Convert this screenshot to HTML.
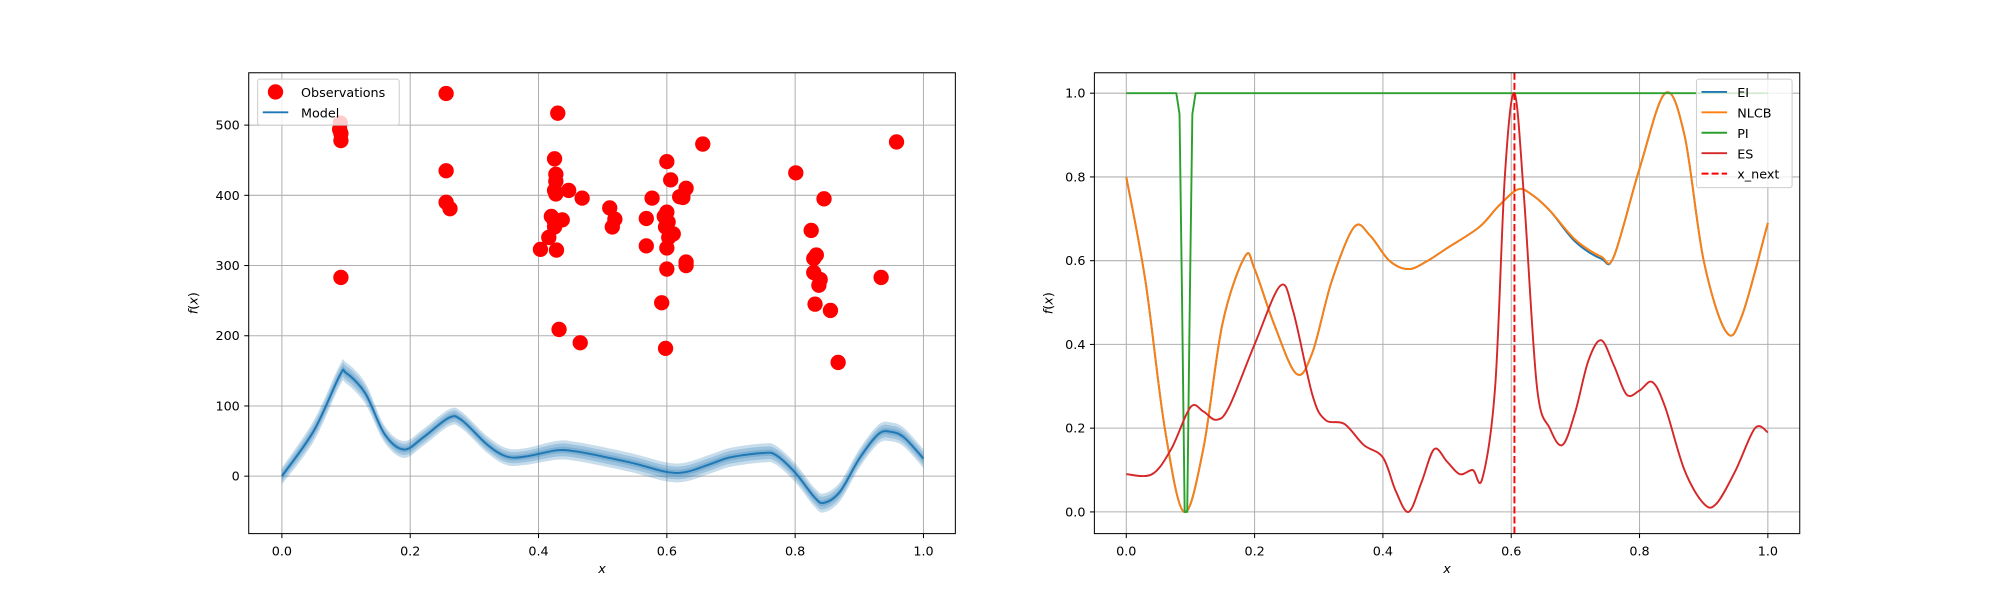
<!DOCTYPE html>
<html><head><meta charset="utf-8"><style>
body{margin:0;background:#fff;}
svg{display:block;font-family:"DejaVu Sans","Liberation Sans",sans-serif;}
</style></head><body>
<svg id="fig" width="2000" height="600" viewBox="0 0 1568 470" preserveAspectRatio="none"></svg>
<script>
// ---- left chart data ----
const obsX=[0.09,0.092,0.092,0.092,0.091,0.256,0.256,0.256,0.262,0.43,0.425,0.427,0.427,0.425,0.427,0.447,0.468,0.42,0.425,0.437,0.425,0.416,0.403,0.428,0.432,0.465,0.511,0.519,0.515,0.656,0.6,0.606,0.63,0.62,0.577,0.568,0.596,0.6,0.602,0.598,0.61,0.568,0.6,0.63,0.63,0.6,0.592,0.598,0.801,0.845,0.825,0.829,0.833,0.829,0.839,0.837,0.831,0.855,0.867,0.934,0.958,0.603,0.625];
const obsY=[494,488,478,283,503,545,435,390,381,517,452,430,420,407,402,407,396,370,362,365,355,340,323,322,209,190,382,366,355,473,448,422,410,398,396,367,370,376,362,355,345,328,325,305,300,295,247,182,432,395,350,310,315,290,280,272,245,236,162,283,476,340,397];
const modelX=[0,0.05,0.09,0.1,0.13,0.16,0.19,0.22,0.26,0.28,0.32,0.35,0.38,0.43,0.46,0.5,0.55,0.6,0.63,0.67,0.7,0.75,0.77,0.8,0.83,0.845,0.87,0.9,0.93,0.95,0.97,1.0];
const modelMean=[0,65,143,147,118,60,38,55,83,80,45,28,28,37,35,28,18,6,6,18,27,33,30,5,-30,-38,-22,25,60,63,55,25];
const modelStd=[4,5,5,5,5,4,4,4,4,4,4,4,4,4.5,4.5,4.5,4.5,4.5,4.5,4.5,4.5,4.5,4.5,4.5,4.5,4.5,4.5,4.5,4.5,4.5,4.5,4.5];
const leftXTicks=[0,0.2,0.4,0.6,0.8,1.0];
const leftYTicks=[0,100,200,300,400,500];
// ---- right chart data ----
const acqX=[0,0.03,0.06,0.09,0.12,0.15,0.185,0.2,0.23,0.265,0.29,0.32,0.355,0.38,0.41,0.44,0.47,0.5,0.55,0.58,0.61,0.63,0.66,0.7,0.74,0.76,0.8,0.84,0.87,0.9,0.935,0.96,1.0];
const nlcbY=[0.8,0.55,0.2,0.0,0.15,0.45,0.61,0.58,0.45,0.33,0.38,0.55,0.68,0.66,0.6,0.58,0.6,0.63,0.68,0.73,0.77,0.76,0.72,0.65,0.61,0.61,0.82,1.0,0.9,0.6,0.43,0.47,0.69];
const eiY=[0.8,0.55,0.2,0.0,0.15,0.45,0.61,0.58,0.45,0.33,0.38,0.55,0.68,0.66,0.6,0.58,0.6,0.63,0.68,0.73,0.77,0.76,0.72,0.645,0.605,0.61,0.82,1.0,0.9,0.6,0.43,0.47,0.69];
const piX=[0,0.078,0.083,0.087,0.091,0.095,0.099,0.103,0.108,1.0];
const piY=[1,1,0.95,0.5,0.0,0.0,0.5,0.95,1,1];
const esX=[0,0.04,0.07,0.1,0.12,0.14,0.16,0.2,0.24,0.26,0.29,0.31,0.34,0.37,0.4,0.42,0.44,0.46,0.48,0.5,0.52,0.54,0.555,0.575,0.59,0.605,0.62,0.64,0.66,0.68,0.7,0.72,0.74,0.76,0.78,0.8,0.82,0.84,0.87,0.9,0.92,0.95,0.98,1.0];
const esY=[0.09,0.09,0.15,0.25,0.24,0.22,0.25,0.4,0.54,0.48,0.28,0.22,0.21,0.16,0.13,0.05,0.0,0.07,0.15,0.12,0.09,0.1,0.08,0.3,0.8,1.0,0.75,0.3,0.2,0.16,0.24,0.36,0.41,0.35,0.28,0.29,0.31,0.25,0.1,0.02,0.02,0.1,0.2,0.19];
const xNext=0.605;
const rightXTicks=[0,0.2,0.4,0.6,0.8,1.0];
const rightYTicks=[0,0.2,0.4,0.6,0.8,1.0];

const NS="http://www.w3.org/2000/svg";
const svg=document.getElementById('fig');
function mk(tag,attrs,parent){const e=document.createElementNS(NS,tag);for(const k in attrs)e.setAttribute(k,attrs[k]);(parent||svg).appendChild(e);return e;}
function smooth(pts){let d=`M${pts[0][0]},${pts[0][1]}`;for(let i=0;i<pts.length-1;i++){const p0=pts[Math.max(0,i-1)],p1=pts[i],p2=pts[i+1],p3=pts[Math.min(pts.length-1,i+2)];
const c1=[p1[0]+(p2[0]-p0[0])/6,p1[1]+(p2[1]-p0[1])/6],c2=[p2[0]-(p3[0]-p1[0])/6,p2[1]-(p3[1]-p1[1])/6];d+=` C${c1[0]},${c1[1]} ${c2[0]},${c2[1]} ${p2[0]},${p2[1]}`;}return d;}
function fmt(v,dec){return v.toFixed(dec);}

function axes(name,L,T,R,B,sx,sy,xt,yt,ydec){
  const g=mk('g',{});
  xt.forEach(v=>{const x=sx(v);mk('line',{x1:x,x2:x,y1:T,y2:B,stroke:'#b0b0b0','stroke-width':0.8},g);
    mk('line',{x1:x,x2:x,y1:B,y2:B+3.5,stroke:'#000','stroke-width':0.8},g);
    const t=mk('text',{x:x,y:B+17,'font-size':10,'text-anchor':'middle',fill:'#000'},g);t.textContent=fmt(v,1);
    });
  yt.forEach(v=>{const y=sy(v);mk('line',{x1:L,x2:R,y1:y,y2:y,stroke:'#b0b0b0','stroke-width':0.8},g);
    mk('line',{x1:L-3.5,x2:L,y1:y,y2:y,stroke:'#000','stroke-width':0.8},g);
    const t=mk('text',{x:L-7,y:y+3.5,'font-size':10,'text-anchor':'end',fill:'#000'},g);t.textContent=fmt(v,ydec);
    });
  const xl=mk('text',{x:(L+R)/2,y:B+31,'font-size':10,'font-style':'italic','text-anchor':'middle'},g);xl.textContent='x';
  
  const cy=(T+B)/2,cx=L-(ydec?33:40);
  const yl=mk('text',{x:cx,y:cy,'font-size':10,'text-anchor':'middle',transform:`rotate(-90 ${cx} ${cy})`},g);
  yl.innerHTML='<tspan font-style="italic">f</tspan>(<tspan font-style="italic">x</tspan>)';
  
  return g;
}
function frame(L,T,R,B){const f=mk('rect',{x:L,y:T,width:R-L,height:B-T,fill:'none',stroke:'#000','stroke-width':0.8});
  }

// LEFT
{const L=195,T=57,R=749,B=418;
 const sx=v=>221+v*503, sy=v=>373-v*0.55;
 axes('left-axes',L,T,R,B,sx,sy,leftXTicks,leftYTicks,0);
 [3,2,1].forEach(k=>{const up=modelX.map((x,i)=>[sx(x),sy(modelMean[i]+k*modelStd[i])]);
   const dn=modelX.map((x,i)=>[sx(x),sy(modelMean[i]-k*modelStd[i])]).reverse();
   const d=smooth(up)+' L'+dn[0][0]+','+dn[0][1]+smooth(dn).replace(/^M[^C]*/,' ')+' Z';
   const p=mk('path',{d:d,fill:'#1f77b4','fill-opacity':0.25,stroke:'none'});
   });
 const m=mk('path',{d:smooth(modelX.map((x,i)=>[sx(x),sy(modelMean[i])])),fill:'none',stroke:'#1f77b4','stroke-width':1.5});
 
 obsX.forEach((x,i)=>{const c=mk('circle',{cx:sx(x),cy:sy(obsY[i]),r:6,fill:'#ff0000'});
   });
 frame(L,T,R,B);
 const lg=mk('g',{});
 mk('rect',{x:202,y:62,width:111,height:36,rx:2,fill:'#fff','fill-opacity':0.8,stroke:'#ccc','stroke-width':0.8},lg);
 mk('circle',{cx:216,cy:72,r:6,fill:'#ff0000'},lg);
 let t=mk('text',{x:236,y:76,'font-size':10},lg);t.textContent='Observations';
 mk('line',{x1:206,x2:226,y1:88,y2:88,stroke:'#1f77b4','stroke-width':1.5},lg);
 t=mk('text',{x:236,y:92,'font-size':10},lg);t.textContent='Model';
}
// RIGHT
{const L=858,T=57,R=1411,B=418;
 const sx=v=>883+v*503, sy=v=>401-v*328;
 axes('right-axes',L,T,R,B,sx,sy,rightXTicks,rightYTicks,1);
 const ln=(xs,ys,col,name)=>{const p=mk('path',{d:smooth(xs.map((x,i)=>[sx(x),sy(ys[i])])),fill:'none',stroke:col,'stroke-width':1.5});
   };
 ln(acqX,eiY,'#1f77b4','ei-line');
 ln(acqX,nlcbY,'#ff7f0e','nlcb-line');
 const pi=mk('path',{d:piX.map((x,i)=>(i?'L':'M')+sx(x)+','+sy(piY[i])).join(' '),fill:'none',stroke:'#2ca02c','stroke-width':1.5,'stroke-linejoin':'round'});
 
 ln(esX,esY,'#d62728','es-line');
 const xn=mk('line',{x1:sx(xNext),x2:sx(xNext),y1:T,y2:B,stroke:'#ff0000','stroke-width':1.5,'stroke-dasharray':'5.5,2.4'});
 
 frame(L,T,R,B);
 const lg=mk('g',{});
 mk('rect',{x:1330,y:62,width:75,height:85,rx:2,fill:'#fff','fill-opacity':0.8,stroke:'#ccc','stroke-width':0.8},lg);
 [['EI','#1f77b4',0],['NLCB','#ff7f0e',0],['PI','#2ca02c',0],['ES','#d62728',0],['x_next','#ff0000',1]].forEach((e,i)=>{
   const y=72+i*16;const l=mk('line',{x1:1334,x2:1354,y1:y,y2:y,stroke:e[1],'stroke-width':1.5},lg);
   if(e[2])l.setAttribute('stroke-dasharray','5.5,2.4');
   const t=mk('text',{x:1362,y:y+4,'font-size':10},lg);t.textContent=e[0];
   });
}
</script>
</body></html>
